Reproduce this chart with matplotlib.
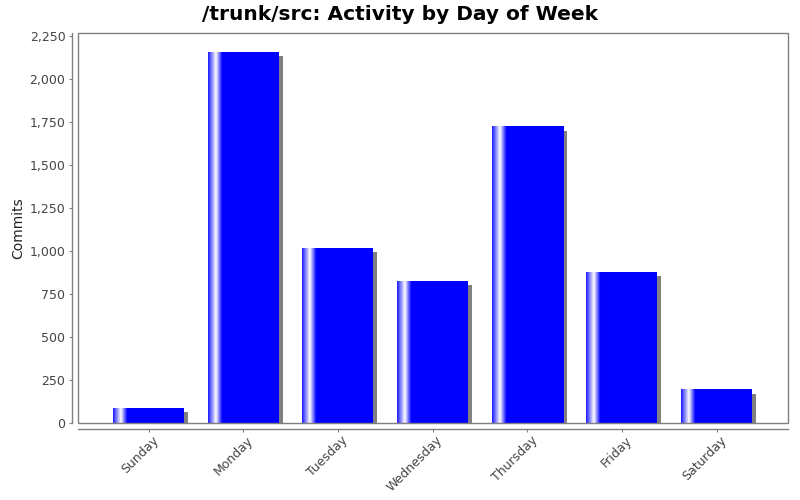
import numpy as np
import matplotlib
matplotlib.use("Agg")
from matplotlib import pyplot as plt
from matplotlib.colors import to_rgb
from matplotlib.patches import Rectangle
from matplotlib.ticker import FuncFormatter, MultipleLocator
import matplotlib.transforms as mtransforms

days = ["Sunday", "Monday", "Tuesday", "Wednesday", "Thursday", "Friday", "Saturday"]
commits = [85, 2155, 1015, 823, 1720, 877, 192]

title = "/trunk/src: Activity by Day of Week"
y_label = "Commits"

fig = plt.figure(figsize=(8, 5), dpi=100)
ax = fig.add_axes([78 / 800, 77 / 500, 710 / 800, 390 / 500])

x = np.arange(len(days))
width = 0.75
ymax = 2266
xlim = (-0.745, len(days) - 1 + 0.755)

# pixel -> data conversions for the shadow offset (4 px right, 4 px down)
px_x = (xlim[1] - xlim[0]) / 710
px_y = ymax / 390

# horizontal gradient: blue -> white -> blue, then plain blue
blue = np.array(to_rgb("#0000ff"))
white = np.array([1.0, 1.0, 1.0])
stops = [0.0, 0.11, 0.2, 1.0]
cols = [blue * 0.9 + white * 0.1, white, blue, blue]
n = 200
pos = np.linspace(0, 1, n)
grad = np.zeros((1, n, 3))
for c in range(3):
    grad[0, :, c] = np.interp(pos, stops, [col[c] for col in cols])

for xi, v in zip(x, commits):
    left = xi - width / 2
    # shadow
    ax.bar(xi + 4 * px_x, max(v - 4 * px_y, 0), width, color="#808080", zorder=1)
    ax.imshow(grad, extent=[left, left + width, 0, v], aspect="auto",
              interpolation="bilinear", zorder=2)

ax.set_xlim(*xlim)
ax.set_ylim(0, ymax)

# axis lines sit 4 px away from the plot outline
ax.spines["left"].set_position(("outward", 4))
ax.spines["bottom"].set_position(("outward", 4))
ax.spines["top"].set_visible(False)
ax.spines["right"].set_visible(False)
for s in ("left", "bottom"):
    ax.spines[s].set_color("#808080")
    ax.spines[s].set_linewidth(1.0)
ax.add_patch(Rectangle((0, 0), 1, 1, transform=ax.transAxes, fill=False,
                       edgecolor="#808080", lw=1.0, clip_on=False, zorder=6))

ax.yaxis.set_major_locator(MultipleLocator(250))
ax.yaxis.set_major_formatter(FuncFormatter(lambda v, p: f"{int(v):,}"))
ax.tick_params(axis="y", colors="#808080", labelcolor="#444444", labelsize=9,
               length=2, pad=3, direction="out")
ax.tick_params(axis="x", colors="#808080", labelcolor="#444444", labelsize=9,
               length=2, pad=3)
ax.set_xticks(x)
ax.set_xticklabels(days, rotation=45, ha="right", va="center",
                   rotation_mode="anchor")
shift = mtransforms.ScaledTranslation(8 / 100, -3 / 100, fig.dpi_scale_trans)
for lbl in ax.get_xticklabels():
    lbl.set_transform(lbl.get_transform() + shift)

ax.set_ylabel(y_label, fontsize=10, color="#222222", labelpad=3)
fig.suptitle(title, fontsize=14.5, fontweight="bold", x=0.5, y=0.99)

fig.savefig("out.png", dpi=100)
